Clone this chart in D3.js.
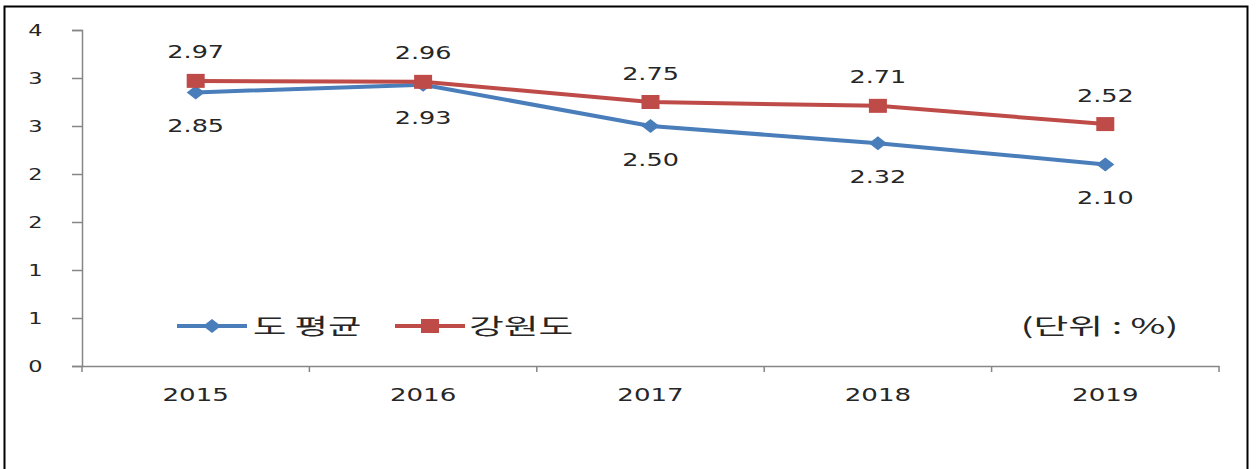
<!DOCTYPE html>
<html><head><meta charset="utf-8">
<script src="https://cdn.jsdelivr.net/npm/d3@7"></script>
<style>body{margin:0;background:#fff}svg{display:block}</style>
</head><body>
<svg id="c" width="1257" height="469"></svg>
<script>
const categories = ["2015","2016","2017","2018","2019"];
const seriesNames = ["도 평균","강원도"];
const doAvg = [2.85, 2.93, 2.50, 2.32, 2.10];
const gangwon = [2.97, 2.96, 2.75, 2.71, 2.52];
const yTicks = [0,0.5,1,1.5,2,2.5,3,3.5];
const unitLabel = "(단위 : %)";

const svg = d3.select("#c");
const colors = ["#4A7EBB","#BE4B48"];
const mLeft = 82, mRight = 1219, mTop = 30, mBottom = 366;
const latin = "DejaVu Sans, Verdana, sans-serif";
const korean = "Noto Sans CJK KR, sans-serif";
const txtColor = "#262626";

function stext(parent, px, py, str, size, anchor, sx, family){
  return parent.append("text").attr("transform",`translate(${px},${py}) scale(${sx},1)`)
    .attr("text-anchor",anchor).attr("font-family",family).attr("font-size",size)
    .attr("fill",txtColor).text(str);
}

svg.append("rect").attr("x",4.5).attr("y",6.5).attr("width",1243).attr("height",480)
  .attr("fill","#fff").attr("stroke","#000").attr("stroke-width",2);

const x = d3.scaleBand().domain(categories).range([mLeft,mRight]);
const y = d3.scaleLinear().domain([0,3.5]).range([mBottom,mTop]);

const yAxis = svg.append("g").attr("transform",`translate(${mLeft},0)`)
  .call(d3.axisLeft(y).tickValues(yTicks).tickSize(10).tickFormat(""));
yAxis.select(".domain").attr("stroke","#868686").attr("stroke-width",1.5);
yAxis.selectAll(".tick line").attr("stroke","#868686").attr("stroke-width",1.5);
yAxis.selectAll(".tick text").remove();
const yl = svg.append("g");
yTicks.forEach(v => stext(yl, 35.5, y(v)+5.5, String(Math.floor(v + 0.5)), 15, "middle", 1.5, latin));

const xAxis = svg.append("g").attr("transform",`translate(0,${mBottom})`)
  .call(d3.axisBottom(x).tickSize(0).tickFormat(""));
xAxis.select(".domain").attr("stroke","#868686").attr("stroke-width",1.5);
xAxis.selectAll(".tick text").remove();
const bounds = categories.map(c => x(c)).concat([mRight]);
svg.append("g").selectAll("line").data(bounds).join("line")
  .attr("x1",d=>d).attr("x2",d=>d).attr("y1",mBottom).attr("y2",mBottom+6)
  .attr("stroke","#868686").attr("stroke-width",1.5);

const cx = c => x(c) + x.bandwidth()/2;
const xl = svg.append("g");
categories.forEach(c => stext(xl, cx(c), 401, c, 18, "middle", 1.45, latin));

const data = [doAvg, gangwon];
const line = d3.line().x((d,i)=>cx(categories[i])).y(d=>y(d));

function diamond(g, px, py, col){
  g.append("path").attr("d",`M${px},${py-7}L${px+9},${py}L${px},${py+7}L${px-9},${py}Z`).attr("fill",col);
}
function square(g, px, py, col){
  g.append("rect").attr("x",px-9).attr("y",py-7).attr("width",18).attr("height",14).attr("fill",col);
}

data.forEach((vals,k)=>{
  svg.append("path").datum(vals).attr("d",line).attr("fill","none")
    .attr("stroke",colors[k]).attr("stroke-width",4).attr("stroke-linejoin","round");
  const g = svg.append("g");
  vals.forEach((v,i)=>{
    const px = cx(categories[i]), py = y(v);
    if(k===0) diamond(g,px,py,colors[k]); else square(g,px,py,colors[k]);
  });
  const lgT = svg.append("g");
  vals.forEach((v,i)=>{
    const px = cx(categories[i]);
    const py = k===0 ? y(v)+39.5 : y(v)-22.5;
    stext(lgT, px, py, v.toFixed(2), 17, "middle", 1.5, latin);
  });
});

const lg = svg.append("g");
const legendItems = [{x0:177, tx:253},{x0:395, tx:469}];
legendItems.forEach((it,k)=>{
  lg.append("line").attr("x1",it.x0).attr("x2",it.x0+70).attr("y1",326).attr("y2",326)
    .attr("stroke",colors[k]).attr("stroke-width",4);
  if(k===0) diamond(lg,it.x0+35,326,colors[k]); else square(lg,it.x0+35,326,colors[k]);
  stext(lg, it.tx, 334, seriesNames[k], 22, "start", k===0 ? 1.65 : 1.72, korean);
});
stext(svg, 1099.5, 334, unitLabel, 22, "middle", 1.72, korean);
</script>
</body></html>
